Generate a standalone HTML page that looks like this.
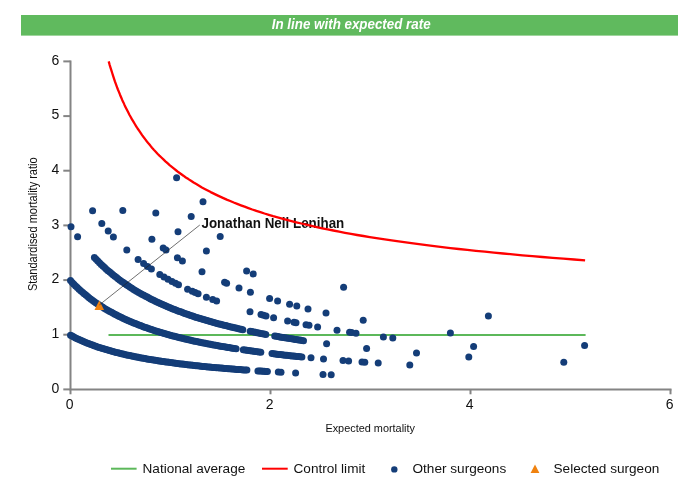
<!DOCTYPE html>
<html><head><meta charset="utf-8"><title>Funnel plot</title>
<style>
html,body{margin:0;padding:0;background:#fff;}
svg{display:block;will-change:transform;}
text{font-family:"Liberation Sans",Arial,sans-serif;}
</style></head>
<body>
<svg width="700" height="500" viewBox="0 0 700 500">
<rect width="700" height="500" fill="#fff"/>
<rect x="21" y="15" width="657" height="20.6" fill="#60ba5e"/>
<text transform="translate(351.2,28.8) scale(0.962,1)" text-anchor="middle" font-size="13.9" font-weight="bold" font-style="italic" fill="#fff">In line with expected rate</text>
<g stroke="#848484" stroke-width="2" fill="none">
<path d="M70.5 60.4V389.4H671.5"/>
<path d="M63.3 389.4H70.5"/>
<path d="M63.3 334.7H70.5"/>
<path d="M63.3 280.1H70.5"/>
<path d="M63.3 225.4H70.5"/>
<path d="M63.3 170.7H70.5"/>
<path d="M63.3 116.1H70.5"/>
<path d="M63.3 61.4H70.5"/>
<path d="M70.5 389.4V394.3"/>
<path d="M270.5 389.4V394.3"/>
<path d="M470.5 389.4V394.3"/>
<path d="M670.5 389.4V394.3"/>
</g>
<g font-family="'Liberation Sans',Arial,sans-serif" font-size="14" fill="#111">
<text x="59.2" y="392.7" text-anchor="end">0</text>
<text x="59.2" y="338.0" text-anchor="end">1</text>
<text x="59.2" y="283.4" text-anchor="end">2</text>
<text x="59.2" y="228.7" text-anchor="end">3</text>
<text x="59.2" y="174.0" text-anchor="end">4</text>
<text x="59.2" y="119.4" text-anchor="end">5</text>
<text x="59.2" y="64.7" text-anchor="end">6</text>
<text x="69.7" y="408.9" text-anchor="middle">0</text>
<text x="269.7" y="408.9" text-anchor="middle">2</text>
<text x="469.7" y="408.9" text-anchor="middle">4</text>
<text x="669.7" y="408.9" text-anchor="middle">6</text>
</g>
<text transform="translate(37,224.3) rotate(-90) scale(0.915,1)" text-anchor="middle" font-size="12" fill="#111">Standardised mortality ratio</text>
<text x="370.2" y="432.2" text-anchor="middle" font-size="10.9" fill="#111">Expected mortality</text>
<path d="M108.5 335H585.6" stroke="#5cb85a" stroke-width="2" fill="none"/>
<g fill="#143d78">
<circle cx="70.5" cy="335.2" r="3.5"/><circle cx="72.2" cy="336.1" r="3.5"/><circle cx="73.9" cy="337.0" r="3.5"/><circle cx="75.6" cy="337.9" r="3.5"/><circle cx="77.3" cy="338.7" r="3.5"/><circle cx="79.0" cy="339.5" r="3.5"/>
<circle cx="80.7" cy="340.3" r="3.5"/><circle cx="82.4" cy="341.0" r="3.5"/><circle cx="84.1" cy="341.8" r="3.5"/><circle cx="85.8" cy="342.5" r="3.5"/><circle cx="87.5" cy="343.2" r="3.5"/><circle cx="89.2" cy="343.8" r="3.5"/>
<circle cx="90.9" cy="344.5" r="3.5"/><circle cx="92.6" cy="345.1" r="3.5"/><circle cx="94.2" cy="345.7" r="3.5"/><circle cx="95.9" cy="346.3" r="3.5"/><circle cx="97.6" cy="346.9" r="3.5"/><circle cx="99.3" cy="347.5" r="3.5"/>
<circle cx="101.0" cy="348.0" r="3.5"/><circle cx="102.7" cy="348.6" r="3.5"/><circle cx="104.4" cy="349.1" r="3.5"/><circle cx="106.1" cy="349.6" r="3.5"/><circle cx="107.8" cy="350.1" r="3.5"/><circle cx="109.5" cy="350.6" r="3.5"/>
<circle cx="111.2" cy="351.0" r="3.5"/><circle cx="112.9" cy="351.5" r="3.5"/><circle cx="114.6" cy="352.0" r="3.5"/><circle cx="116.3" cy="352.4" r="3.5"/><circle cx="118.0" cy="352.8" r="3.5"/><circle cx="119.7" cy="353.3" r="3.5"/>
<circle cx="121.4" cy="353.7" r="3.5"/><circle cx="123.1" cy="354.1" r="3.5"/><circle cx="124.8" cy="354.5" r="3.5"/><circle cx="126.5" cy="354.9" r="3.5"/><circle cx="128.2" cy="355.2" r="3.5"/><circle cx="129.9" cy="355.6" r="3.5"/>
<circle cx="131.6" cy="356.0" r="3.5"/><circle cx="133.3" cy="356.3" r="3.5"/><circle cx="135.0" cy="356.7" r="3.5"/><circle cx="136.7" cy="357.0" r="3.5"/><circle cx="138.3" cy="357.3" r="3.5"/><circle cx="140.0" cy="357.7" r="3.5"/>
<circle cx="141.7" cy="358.0" r="3.5"/><circle cx="143.4" cy="358.3" r="3.5"/><circle cx="145.1" cy="358.6" r="3.5"/><circle cx="146.8" cy="358.9" r="3.5"/><circle cx="148.5" cy="359.2" r="3.5"/><circle cx="150.2" cy="359.5" r="3.5"/>
<circle cx="151.9" cy="359.8" r="3.5"/><circle cx="153.6" cy="360.0" r="3.5"/><circle cx="155.3" cy="360.3" r="3.5"/><circle cx="157.0" cy="360.6" r="3.5"/><circle cx="158.7" cy="360.9" r="3.5"/><circle cx="160.4" cy="361.1" r="3.5"/>
<circle cx="162.1" cy="361.4" r="3.5"/><circle cx="163.8" cy="361.6" r="3.5"/><circle cx="165.5" cy="361.9" r="3.5"/><circle cx="167.2" cy="362.1" r="3.5"/><circle cx="168.9" cy="362.3" r="3.5"/><circle cx="170.6" cy="362.6" r="3.5"/>
<circle cx="172.3" cy="362.8" r="3.5"/><circle cx="174.0" cy="363.0" r="3.5"/><circle cx="175.7" cy="363.3" r="3.5"/><circle cx="177.4" cy="363.5" r="3.5"/><circle cx="179.1" cy="363.7" r="3.5"/><circle cx="180.8" cy="363.9" r="3.5"/>
<circle cx="182.4" cy="364.1" r="3.5"/><circle cx="184.1" cy="364.3" r="3.5"/><circle cx="185.8" cy="364.5" r="3.5"/><circle cx="187.5" cy="364.7" r="3.5"/><circle cx="189.2" cy="364.9" r="3.5"/><circle cx="190.9" cy="365.1" r="3.5"/>
<circle cx="192.6" cy="365.3" r="3.5"/><circle cx="194.3" cy="365.5" r="3.5"/><circle cx="196.0" cy="365.7" r="3.5"/><circle cx="197.7" cy="365.8" r="3.5"/><circle cx="199.4" cy="366.0" r="3.5"/><circle cx="201.1" cy="366.2" r="3.5"/>
<circle cx="202.8" cy="366.4" r="3.5"/><circle cx="204.5" cy="366.5" r="3.5"/><circle cx="206.2" cy="366.7" r="3.5"/><circle cx="207.9" cy="366.9" r="3.5"/><circle cx="209.6" cy="367.0" r="3.5"/><circle cx="211.3" cy="367.2" r="3.5"/>
<circle cx="213.0" cy="367.4" r="3.5"/><circle cx="214.7" cy="367.5" r="3.5"/><circle cx="216.4" cy="367.7" r="3.5"/><circle cx="218.1" cy="367.8" r="3.5"/><circle cx="219.8" cy="368.0" r="3.5"/><circle cx="221.5" cy="368.1" r="3.5"/>
<circle cx="223.2" cy="368.3" r="3.5"/><circle cx="224.8" cy="368.4" r="3.5"/><circle cx="226.5" cy="368.5" r="3.5"/><circle cx="228.2" cy="368.7" r="3.5"/><circle cx="229.9" cy="368.8" r="3.5"/><circle cx="231.6" cy="369.0" r="3.5"/>
<circle cx="233.3" cy="369.1" r="3.5"/><circle cx="235.0" cy="369.2" r="3.5"/><circle cx="236.7" cy="369.4" r="3.5"/><circle cx="238.4" cy="369.5" r="3.5"/><circle cx="240.1" cy="369.6" r="3.5"/><circle cx="241.8" cy="369.8" r="3.5"/>
<circle cx="243.5" cy="369.9" r="3.5"/><circle cx="245.2" cy="370.0" r="3.5"/><circle cx="246.9" cy="370.1" r="3.5"/><circle cx="257.9" cy="370.9" r="3.5"/><circle cx="259.5" cy="371.0" r="3.5"/><circle cx="261.1" cy="371.1" r="3.5"/>
<circle cx="262.6" cy="371.2" r="3.5"/><circle cx="264.2" cy="371.3" r="3.5"/><circle cx="265.8" cy="371.4" r="3.5"/><circle cx="267.4" cy="371.5" r="3.5"/><circle cx="70.5" cy="280.6" r="3.5"/><circle cx="72.2" cy="282.4" r="3.5"/>
<circle cx="73.9" cy="284.2" r="3.5"/><circle cx="75.6" cy="285.9" r="3.5"/><circle cx="77.3" cy="287.6" r="3.5"/><circle cx="79.0" cy="289.2" r="3.5"/><circle cx="80.7" cy="290.7" r="3.5"/><circle cx="82.5" cy="292.2" r="3.5"/>
<circle cx="84.2" cy="293.7" r="3.5"/><circle cx="85.9" cy="295.1" r="3.5"/><circle cx="87.6" cy="296.5" r="3.5"/><circle cx="89.3" cy="297.9" r="3.5"/><circle cx="91.0" cy="299.2" r="3.5"/><circle cx="92.7" cy="300.4" r="3.5"/>
<circle cx="94.4" cy="301.7" r="3.5"/><circle cx="96.1" cy="302.9" r="3.5"/><circle cx="97.8" cy="304.0" r="3.5"/><circle cx="99.5" cy="305.2" r="3.5"/><circle cx="101.2" cy="306.3" r="3.5"/><circle cx="102.9" cy="307.3" r="3.5"/>
<circle cx="104.6" cy="308.4" r="3.5"/><circle cx="106.4" cy="309.4" r="3.5"/><circle cx="108.1" cy="310.4" r="3.5"/><circle cx="109.8" cy="311.4" r="3.5"/><circle cx="111.5" cy="312.3" r="3.5"/><circle cx="113.2" cy="313.3" r="3.5"/>
<circle cx="114.9" cy="314.2" r="3.5"/><circle cx="116.6" cy="315.1" r="3.5"/><circle cx="118.3" cy="315.9" r="3.5"/><circle cx="120.0" cy="316.8" r="3.5"/><circle cx="121.7" cy="317.6" r="3.5"/><circle cx="123.4" cy="318.4" r="3.5"/>
<circle cx="125.1" cy="319.2" r="3.5"/><circle cx="126.8" cy="320.0" r="3.5"/><circle cx="128.5" cy="320.7" r="3.5"/><circle cx="130.3" cy="321.5" r="3.5"/><circle cx="132.0" cy="322.2" r="3.5"/><circle cx="133.7" cy="322.9" r="3.5"/>
<circle cx="135.4" cy="323.6" r="3.5"/><circle cx="137.1" cy="324.3" r="3.5"/><circle cx="138.8" cy="324.9" r="3.5"/><circle cx="140.5" cy="325.6" r="3.5"/><circle cx="142.2" cy="326.2" r="3.5"/><circle cx="143.9" cy="326.9" r="3.5"/>
<circle cx="145.6" cy="327.5" r="3.5"/><circle cx="147.3" cy="328.1" r="3.5"/><circle cx="149.0" cy="328.7" r="3.5"/><circle cx="150.7" cy="329.2" r="3.5"/><circle cx="152.4" cy="329.8" r="3.5"/><circle cx="154.2" cy="330.4" r="3.5"/>
<circle cx="155.9" cy="330.9" r="3.5"/><circle cx="157.6" cy="331.5" r="3.5"/><circle cx="159.3" cy="332.0" r="3.5"/><circle cx="161.0" cy="332.5" r="3.5"/><circle cx="162.7" cy="333.0" r="3.5"/><circle cx="164.4" cy="333.5" r="3.5"/>
<circle cx="166.1" cy="334.0" r="3.5"/><circle cx="167.8" cy="334.5" r="3.5"/><circle cx="169.5" cy="335.0" r="3.5"/><circle cx="171.2" cy="335.4" r="3.5"/><circle cx="172.9" cy="335.9" r="3.5"/><circle cx="174.6" cy="336.3" r="3.5"/>
<circle cx="176.3" cy="336.8" r="3.5"/><circle cx="178.1" cy="337.2" r="3.5"/><circle cx="179.8" cy="337.7" r="3.5"/><circle cx="181.5" cy="338.1" r="3.5"/><circle cx="183.2" cy="338.5" r="3.5"/><circle cx="184.9" cy="338.9" r="3.5"/>
<circle cx="186.6" cy="339.3" r="3.5"/><circle cx="188.3" cy="339.7" r="3.5"/><circle cx="190.0" cy="340.1" r="3.5"/><circle cx="191.7" cy="340.5" r="3.5"/><circle cx="193.4" cy="340.9" r="3.5"/><circle cx="195.1" cy="341.2" r="3.5"/>
<circle cx="196.8" cy="341.6" r="3.5"/><circle cx="198.5" cy="342.0" r="3.5"/><circle cx="200.2" cy="342.3" r="3.5"/><circle cx="202.0" cy="342.7" r="3.5"/><circle cx="203.7" cy="343.0" r="3.5"/><circle cx="205.4" cy="343.3" r="3.5"/>
<circle cx="207.1" cy="343.7" r="3.5"/><circle cx="208.8" cy="344.0" r="3.5"/><circle cx="210.5" cy="344.3" r="3.5"/><circle cx="212.2" cy="344.7" r="3.5"/><circle cx="213.9" cy="345.0" r="3.5"/><circle cx="215.6" cy="345.3" r="3.5"/>
<circle cx="217.3" cy="345.6" r="3.5"/><circle cx="219.0" cy="345.9" r="3.5"/><circle cx="220.7" cy="346.2" r="3.5"/><circle cx="222.4" cy="346.5" r="3.5"/><circle cx="224.1" cy="346.8" r="3.5"/><circle cx="225.9" cy="347.1" r="3.5"/>
<circle cx="227.6" cy="347.4" r="3.5"/><circle cx="229.3" cy="347.6" r="3.5"/><circle cx="231.0" cy="347.9" r="3.5"/><circle cx="232.7" cy="348.2" r="3.5"/><circle cx="234.4" cy="348.5" r="3.5"/><circle cx="236.1" cy="348.7" r="3.5"/>
<circle cx="243.3" cy="349.8" r="3.5"/><circle cx="245.1" cy="350.1" r="3.5"/><circle cx="246.8" cy="350.3" r="3.5"/><circle cx="248.6" cy="350.6" r="3.5"/><circle cx="250.3" cy="350.8" r="3.5"/><circle cx="252.1" cy="351.1" r="3.5"/>
<circle cx="253.8" cy="351.3" r="3.5"/><circle cx="255.6" cy="351.5" r="3.5"/><circle cx="257.3" cy="351.8" r="3.5"/><circle cx="259.1" cy="352.0" r="3.5"/><circle cx="260.8" cy="352.2" r="3.5"/><circle cx="272.0" cy="353.6" r="3.5"/>
<circle cx="273.7" cy="353.8" r="3.5"/><circle cx="275.3" cy="354.0" r="3.5"/><circle cx="277.0" cy="354.2" r="3.5"/><circle cx="278.6" cy="354.4" r="3.5"/><circle cx="280.3" cy="354.6" r="3.5"/><circle cx="282.0" cy="354.8" r="3.5"/>
<circle cx="283.6" cy="355.0" r="3.5"/><circle cx="285.3" cy="355.2" r="3.5"/><circle cx="286.9" cy="355.3" r="3.5"/><circle cx="288.6" cy="355.5" r="3.5"/><circle cx="290.3" cy="355.7" r="3.5"/><circle cx="291.9" cy="355.9" r="3.5"/>
<circle cx="293.6" cy="356.1" r="3.5"/><circle cx="295.3" cy="356.2" r="3.5"/><circle cx="296.9" cy="356.4" r="3.5"/><circle cx="298.6" cy="356.6" r="3.5"/><circle cx="300.2" cy="356.7" r="3.5"/><circle cx="301.9" cy="356.9" r="3.5"/>
<circle cx="94.4" cy="257.5" r="3.5"/><circle cx="96.1" cy="259.3" r="3.5"/><circle cx="97.8" cy="261.1" r="3.5"/><circle cx="99.5" cy="262.8" r="3.5"/><circle cx="101.2" cy="264.4" r="3.5"/><circle cx="102.9" cy="266.1" r="3.5"/>
<circle cx="104.6" cy="267.6" r="3.5"/><circle cx="106.3" cy="269.2" r="3.5"/><circle cx="108.0" cy="270.7" r="3.5"/><circle cx="109.8" cy="272.1" r="3.5"/><circle cx="111.5" cy="273.6" r="3.5"/><circle cx="113.2" cy="274.9" r="3.5"/>
<circle cx="114.9" cy="276.3" r="3.5"/><circle cx="116.6" cy="277.6" r="3.5"/><circle cx="118.3" cy="278.9" r="3.5"/><circle cx="120.0" cy="280.2" r="3.5"/><circle cx="121.7" cy="281.4" r="3.5"/><circle cx="123.4" cy="282.6" r="3.5"/>
<circle cx="125.1" cy="283.8" r="3.5"/><circle cx="126.8" cy="285.0" r="3.5"/><circle cx="128.5" cy="286.1" r="3.5"/><circle cx="130.2" cy="287.2" r="3.5"/><circle cx="131.9" cy="288.3" r="3.5"/><circle cx="133.6" cy="289.4" r="3.5"/>
<circle cx="135.3" cy="290.4" r="3.5"/><circle cx="137.0" cy="291.4" r="3.5"/><circle cx="138.7" cy="292.4" r="3.5"/><circle cx="140.5" cy="293.4" r="3.5"/><circle cx="142.2" cy="294.4" r="3.5"/><circle cx="143.9" cy="295.3" r="3.5"/>
<circle cx="145.6" cy="296.2" r="3.5"/><circle cx="147.3" cy="297.1" r="3.5"/><circle cx="149.0" cy="298.0" r="3.5"/><circle cx="150.7" cy="298.9" r="3.5"/><circle cx="152.4" cy="299.7" r="3.5"/><circle cx="154.1" cy="300.6" r="3.5"/>
<circle cx="155.8" cy="301.4" r="3.5"/><circle cx="157.5" cy="302.2" r="3.5"/><circle cx="159.2" cy="303.0" r="3.5"/><circle cx="160.9" cy="303.8" r="3.5"/><circle cx="162.6" cy="304.5" r="3.5"/><circle cx="164.3" cy="305.3" r="3.5"/>
<circle cx="166.0" cy="306.0" r="3.5"/><circle cx="167.7" cy="306.8" r="3.5"/><circle cx="169.5" cy="307.5" r="3.5"/><circle cx="171.2" cy="308.2" r="3.5"/><circle cx="172.9" cy="308.9" r="3.5"/><circle cx="174.6" cy="309.5" r="3.5"/>
<circle cx="176.3" cy="310.2" r="3.5"/><circle cx="178.0" cy="310.9" r="3.5"/><circle cx="179.7" cy="311.5" r="3.5"/><circle cx="181.4" cy="312.1" r="3.5"/><circle cx="183.1" cy="312.8" r="3.5"/><circle cx="184.8" cy="313.4" r="3.5"/>
<circle cx="186.5" cy="314.0" r="3.5"/><circle cx="188.2" cy="314.6" r="3.5"/><circle cx="189.9" cy="315.2" r="3.5"/><circle cx="191.6" cy="315.7" r="3.5"/><circle cx="193.3" cy="316.3" r="3.5"/><circle cx="195.0" cy="316.9" r="3.5"/>
<circle cx="196.7" cy="317.4" r="3.5"/><circle cx="198.5" cy="318.0" r="3.5"/><circle cx="200.2" cy="318.5" r="3.5"/><circle cx="201.9" cy="319.0" r="3.5"/><circle cx="203.6" cy="319.5" r="3.5"/><circle cx="205.3" cy="320.0" r="3.5"/>
<circle cx="207.0" cy="320.5" r="3.5"/><circle cx="208.7" cy="321.0" r="3.5"/><circle cx="210.4" cy="321.5" r="3.5"/><circle cx="212.1" cy="322.0" r="3.5"/><circle cx="213.8" cy="322.5" r="3.5"/><circle cx="215.5" cy="323.0" r="3.5"/>
<circle cx="217.2" cy="323.4" r="3.5"/><circle cx="218.9" cy="323.9" r="3.5"/><circle cx="220.6" cy="324.3" r="3.5"/><circle cx="222.3" cy="324.8" r="3.5"/><circle cx="224.0" cy="325.2" r="3.5"/><circle cx="225.7" cy="325.6" r="3.5"/>
<circle cx="227.4" cy="326.1" r="3.5"/><circle cx="229.2" cy="326.5" r="3.5"/><circle cx="230.9" cy="326.9" r="3.5"/><circle cx="232.6" cy="327.3" r="3.5"/><circle cx="234.3" cy="327.7" r="3.5"/><circle cx="236.0" cy="328.1" r="3.5"/>
<circle cx="237.7" cy="328.5" r="3.5"/><circle cx="239.4" cy="328.9" r="3.5"/><circle cx="241.1" cy="329.3" r="3.5"/><circle cx="242.8" cy="329.7" r="3.5"/><circle cx="250.2" cy="331.3" r="3.5"/><circle cx="251.9" cy="331.6" r="3.5"/>
<circle cx="253.7" cy="332.0" r="3.5"/><circle cx="255.4" cy="332.3" r="3.5"/><circle cx="257.1" cy="332.7" r="3.5"/><circle cx="258.9" cy="333.0" r="3.5"/><circle cx="260.6" cy="333.4" r="3.5"/><circle cx="262.3" cy="333.7" r="3.5"/>
<circle cx="264.1" cy="334.0" r="3.5"/><circle cx="265.8" cy="334.4" r="3.5"/><circle cx="274.7" cy="336.0" r="3.5"/><circle cx="276.4" cy="336.3" r="3.5"/><circle cx="278.1" cy="336.6" r="3.5"/><circle cx="279.8" cy="336.9" r="3.5"/>
<circle cx="281.5" cy="337.2" r="3.5"/><circle cx="283.2" cy="337.4" r="3.5"/><circle cx="284.9" cy="337.7" r="3.5"/><circle cx="286.6" cy="338.0" r="3.5"/><circle cx="288.3" cy="338.3" r="3.5"/><circle cx="289.9" cy="338.6" r="3.5"/>
<circle cx="291.6" cy="338.8" r="3.5"/><circle cx="293.3" cy="339.1" r="3.5"/><circle cx="295.0" cy="339.4" r="3.5"/><circle cx="296.7" cy="339.6" r="3.5"/><circle cx="298.4" cy="339.9" r="3.5"/><circle cx="300.1" cy="340.1" r="3.5"/>
<circle cx="301.8" cy="340.4" r="3.5"/><circle cx="303.5" cy="340.7" r="3.5"/><circle cx="138.1" cy="259.4" r="3.5"/><circle cx="143.6" cy="263.6" r="3.5"/><circle cx="147.5" cy="266.4" r="3.5"/><circle cx="151.4" cy="269.0" r="3.5"/>
<circle cx="159.8" cy="274.4" r="3.5"/><circle cx="164.0" cy="276.9" r="3.5"/><circle cx="168.0" cy="279.2" r="3.5"/><circle cx="172.0" cy="281.4" r="3.5"/><circle cx="175.5" cy="283.2" r="3.5"/><circle cx="178.5" cy="284.8" r="3.5"/>
<circle cx="187.6" cy="289.2" r="3.5"/><circle cx="192.3" cy="291.3" r="3.5"/><circle cx="195.2" cy="292.6" r="3.5"/><circle cx="206.4" cy="297.2" r="3.5"/><circle cx="212.7" cy="299.6" r="3.5"/><circle cx="216.6" cy="301.0" r="3.5"/>
<circle cx="261.0" cy="314.6" r="3.5"/><circle cx="263.5" cy="315.3" r="3.5"/><circle cx="266.0" cy="315.9" r="3.5"/><circle cx="294.0" cy="322.3" r="3.5"/><circle cx="296.0" cy="322.7" r="3.5"/><circle cx="306.0" cy="324.7" r="3.5"/>
<circle cx="309.0" cy="325.3" r="3.5"/><circle cx="349.6" cy="332.2" r="3.5"/><circle cx="351.6" cy="332.5" r="3.5"/><circle cx="163.2" cy="248.1" r="3.5"/><circle cx="166.0" cy="250.1" r="3.5"/><circle cx="177.4" cy="257.8" r="3.5"/>
<circle cx="182.4" cy="260.9" r="3.5"/><circle cx="224.6" cy="282.3" r="3.5"/><circle cx="226.6" cy="283.2" r="3.5"/><circle cx="343.0" cy="360.5" r="3.5"/><circle cx="348.6" cy="361.0" r="3.5"/><circle cx="362.0" cy="362.0" r="3.5"/>
<circle cx="364.8" cy="362.2" r="3.5"/><circle cx="278.3" cy="372.1" r="3.5"/><circle cx="281.0" cy="372.3" r="3.5"/><circle cx="295.6" cy="373.1" r="3.5"/><circle cx="323.0" cy="374.4" r="3.5"/><circle cx="331.2" cy="374.7" r="3.5"/>
<circle cx="311.0" cy="357.8" r="3.5"/><circle cx="323.5" cy="358.9" r="3.5"/><circle cx="378.2" cy="363.1" r="3.5"/><circle cx="409.8" cy="365.0" r="3.5"/><circle cx="71.0" cy="226.7" r="3.5"/><circle cx="77.6" cy="236.8" r="3.5"/>
<circle cx="326.6" cy="343.8" r="3.5"/><circle cx="366.6" cy="348.5" r="3.5"/><circle cx="416.5" cy="353.1" r="3.5"/><circle cx="468.8" cy="357.0" r="3.5"/><circle cx="563.8" cy="362.3" r="3.5"/><circle cx="92.6" cy="210.8" r="3.5"/>
<circle cx="101.8" cy="223.4" r="3.5"/><circle cx="108.2" cy="231.1" r="3.5"/><circle cx="113.4" cy="236.9" r="3.5"/><circle cx="126.8" cy="250.0" r="3.5"/><circle cx="198.1" cy="293.8" r="3.5"/><circle cx="250.0" cy="311.7" r="3.5"/>
<circle cx="273.6" cy="317.8" r="3.5"/><circle cx="287.6" cy="320.9" r="3.5"/><circle cx="317.6" cy="326.9" r="3.5"/><circle cx="337.0" cy="330.2" r="3.5"/><circle cx="356.0" cy="333.2" r="3.5"/><circle cx="383.4" cy="336.9" r="3.5"/>
<circle cx="392.8" cy="338.1" r="3.5"/><circle cx="473.6" cy="346.4" r="3.5"/><circle cx="122.8" cy="210.4" r="3.5"/><circle cx="151.9" cy="239.2" r="3.5"/><circle cx="202.0" cy="271.8" r="3.5"/><circle cx="239.0" cy="288.1" r="3.5"/>
<circle cx="250.4" cy="292.2" r="3.5"/><circle cx="269.6" cy="298.5" r="3.5"/><circle cx="277.6" cy="300.9" r="3.5"/><circle cx="289.6" cy="304.2" r="3.5"/><circle cx="296.8" cy="306.1" r="3.5"/><circle cx="308.0" cy="308.9" r="3.5"/>
<circle cx="326.0" cy="313.0" r="3.5"/><circle cx="363.2" cy="320.3" r="3.5"/><circle cx="450.4" cy="332.9" r="3.5"/><circle cx="584.6" cy="345.4" r="3.5"/><circle cx="155.8" cy="212.9" r="3.5"/><circle cx="178.0" cy="231.8" r="3.5"/>
<circle cx="206.4" cy="250.9" r="3.5"/><circle cx="246.6" cy="271.1" r="3.5"/><circle cx="253.2" cy="273.9" r="3.5"/><circle cx="191.2" cy="216.5" r="3.5"/><circle cx="220.2" cy="236.6" r="3.5"/><circle cx="343.6" cy="287.3" r="3.5"/>
<circle cx="488.4" cy="316.0" r="3.5"/><circle cx="176.6" cy="177.7" r="3.5"/><circle cx="203.0" cy="201.8" r="3.5"/>
</g>
<path d="M99.3 300.4l4.8 9.6h-9.6z" fill="#f0820f"/>
<path d="M99.5 304.8L199.8 225" stroke="#222" stroke-width="0.65" fill="none"/>
<text transform="translate(201.5,228) scale(0.957,1)" font-size="14" font-weight="bold" fill="#111">Jonathan Neil Lenihan</text>
<path d="M108.7 61.4L109.5 64.3L110.4 67.3L111.3 70.1L112.2 73.0L113.1 75.8L114.0 78.6L114.9 81.4L115.9 84.1L116.9 86.8L117.9 89.5L119.0 92.1L120.0 94.7L121.1 97.3L122.2 99.9L123.4 102.4L124.5 104.9L125.7 107.4L126.9 109.8L128.2 112.3L129.4 114.7L130.7 117.0L132.0 119.4L133.4 121.7L134.8 124.0L136.2 126.3L137.6 128.5L139.1 130.7L140.6 132.9L142.1 135.1L143.7 137.3L145.3 139.4L146.9 141.5L148.6 143.6L150.3 145.6L152.0 147.7L153.8 149.7L155.7 151.7L157.5 153.7L159.4 155.6L161.4 157.5L163.4 159.4L165.4 161.3L167.5 163.2L169.6 165.1L171.8 166.9L174.0 168.7L176.3 170.5L178.6 172.3L181.0 174.0L183.4 175.7L185.8 177.5L188.4 179.1L191.0 180.8L193.6 182.5L196.3 184.1L199.1 185.7L201.9 187.4L204.7 188.9L207.7 190.5L210.7 192.1L213.8 193.6L216.9 195.1L220.1 196.6L223.4 198.1L226.7 199.6L230.2 201.0L233.7 202.5L237.2 203.9L240.9 205.3L244.6 206.7L248.4 208.1L252.3 209.5L256.3 210.8L260.4 212.1L264.5 213.5L268.8 214.8L273.1 216.1L277.6 217.3L282.1 218.6L286.8 219.9L291.5 221.1L296.3 222.3L301.3 223.5L306.3 224.7L311.5 225.9L316.8 227.1L322.2 228.3L327.7 229.4L333.3 230.5L339.1 231.7L345.0 232.8L351.0 233.9L357.1 235.0L363.4 236.0L369.8 237.1L376.4 238.2L383.1 239.2L389.9 240.2L396.9 241.2L404.1 242.2L411.4 243.2L418.9 244.2L426.5 245.2L434.3 246.2L442.3 247.1L450.4 248.1L458.7 249.0L467.3 249.9L475.9 250.8L484.8 251.7L493.9 252.6L503.2 253.5L512.7 254.4L522.4 255.3L532.3 256.1L542.4 257.0L552.7 257.8L563.3 258.6L574.1 259.5L585.1 260.3" fill="none" stroke="#ff0000" stroke-width="2.3" stroke-linejoin="round"/>
<g font-size="13.6" fill="#111">
<path d="M111 468.7H136.6" stroke="#5cb85a" stroke-width="2"/>
<text x="142.5" y="473">National average</text>
<path d="M262 468.7H287.7" stroke="#ff0000" stroke-width="2"/>
<text x="293.5" y="473">Control limit</text>
<circle cx="394.3" cy="469.4" r="3.2" fill="#143d78"/>
<text x="412.5" y="473">Other surgeons</text>
<path d="M535 464.5l4.4 8.4h-8.8z" fill="#f0820f"/>
<text x="553.5" y="473">Selected surgeon</text>
</g>
</svg>
</body></html>
